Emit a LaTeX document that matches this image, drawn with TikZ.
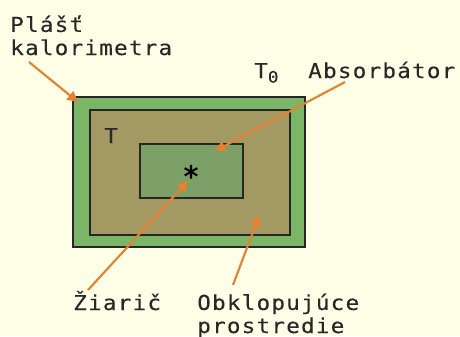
\documentclass[tikz,border=0pt]{standalone}
\usepackage{fontspec}
\usetikzlibrary{arrows.meta}
\newfontfamily\lblfont[FakeStretch=1.1,LetterSpace=6,FakeBold=0.2]{DejaVu Sans Mono}
\newfontfamily\starfont[FakeBold=1.5]{DejaVu Sans Mono}
\definecolor{bgc}{RGB}{255,255,232}
\definecolor{outerg}{RGB}{122,182,102}
\definecolor{midg}{RGB}{163,153,98}
\definecolor{innerg}{RGB}{124,160,104}
\definecolor{arrc}{RGB}{232,128,48}
\definecolor{txtc}{RGB}{40,40,40}
\begin{document}
\begin{tikzpicture}[x=0.75pt,y=-0.75pt,
  lbl/.style={font=\lblfont\fontsize{15.4}{17.3}\selectfont, text=txtc, inner sep=0pt, anchor=base west, align=left},
  box/.style={draw=black!85, line width=1.2pt},
  ptr/.style={draw=arrc, line width=1.6pt, -{Triangle[length=8pt,width=8pt]}}]
\useasboundingbox[fill=bgc] (0,0) rectangle (460,336);
\path[box, fill=outerg] (73,97) rectangle (305,247);
\path[box, fill=midg] (90,110) rectangle (290,235);
\path[box, fill=innerg] (140,144) rectangle (243,198);
\node[lbl] (plast) at (10,55) {Plášť\\kalorimetra};
\node[lbl] (absorb) at (308,78) {Absorbátor};
\node[lbl] (t0) at (254,78) {T\raisebox{-3.5pt}{\fontsize{12}{12}\selectfont 0}};
\node[lbl] (t) at (104,143) {T};
\node[font=\starfont\fontsize{22}{22}\selectfont, text=black, inner sep=0pt] (star) at (191,176) {*};
\node[lbl] (ziaric) at (73,310) {Žiarič};
\node[lbl] (okolie) at (197,333) {Obklopujúce\\prostredie};
\coordinate (a1) at (29,62);
\coordinate (a1t) at (78,102);
\coordinate (a2) at (345,82);
\coordinate (a2t) at (215,151);
\coordinate (a3) at (88,290);
\coordinate (a3t) at (188,181);
\coordinate (a4) at (233,285);
\coordinate (a4t) at (259,216);
\draw[ptr] (a1) -- (a1t);
\draw[ptr] (a2) -- (a2t);
\draw[ptr] (a3) -- (a3t);
\draw[ptr] (a4) -- (a4t);
\end{tikzpicture}
\end{document}
